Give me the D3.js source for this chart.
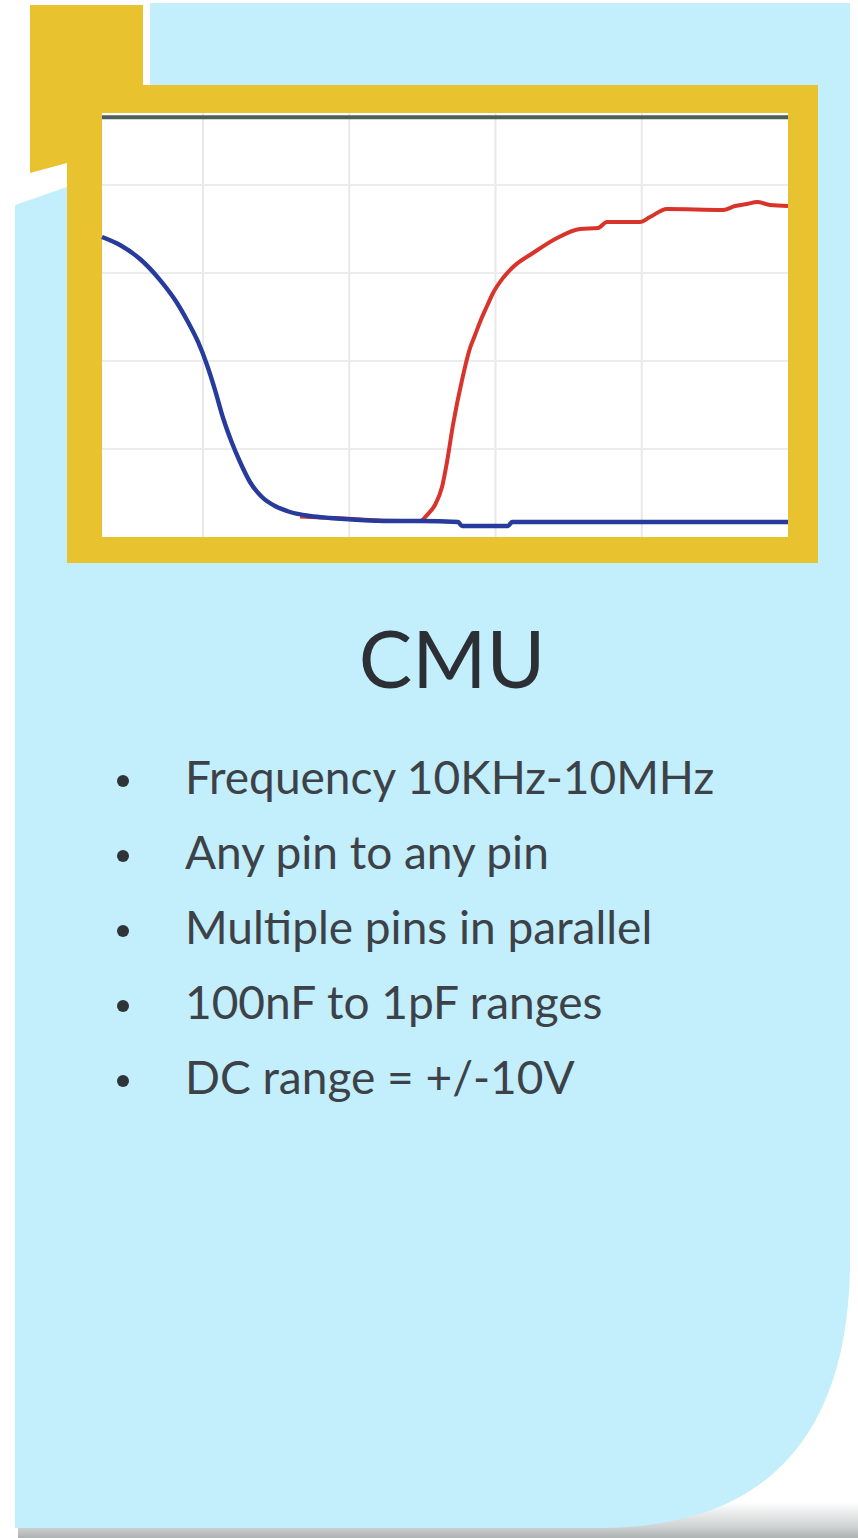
<!DOCTYPE html>
<html>
<head>
<meta charset="utf-8">
<script src="https://cdn.jsdelivr.net/npm/d3@7"></script>
<style>
  html, body { margin: 0; padding: 0; background: #ffffff; }
  svg { display: block; }
</style>
</head>
<body>
<div id="chart"></div>
<script>
// ---- Data (grid units) ----
const blueX = [0.309, 0.432, 0.569, 0.706, 0.809, 0.897, 0.966, 1.027, 1.082, 1.137, 1.198, 1.253, 1.321, 1.403, 1.492, 1.595, 1.732, 1.868, 2.074, 2.279, 2.484, 2.744, 2.771, 3.085, 3.113, 5.0];
const blueY = [3.409, 3.318, 3.159, 2.920, 2.693, 2.443, 2.216, 1.955, 1.670, 1.352, 1.068, 0.852, 0.625, 0.455, 0.352, 0.284, 0.239, 0.216, 0.193, 0.182, 0.182, 0.170, 0.125, 0.125, 0.170, 0.170];

const redX = [1.663, 1.868, 2.074, 2.244, 2.484, 2.538, 2.586, 2.634, 2.668, 2.709, 2.771, 2.826, 2.860, 2.894, 2.942, 2.983, 3.051, 3.120, 3.256, 3.421, 3.578, 3.701, 3.762, 3.988, 4.056, 4.173, 4.556, 4.638, 4.720, 4.788, 4.877, 5.0];
const redY = [0.232, 0.216, 0.200, 0.186, 0.182, 0.261, 0.364, 0.568, 0.852, 1.273, 1.784, 2.148, 2.295, 2.443, 2.625, 2.773, 2.943, 3.068, 3.227, 3.398, 3.500, 3.511, 3.580, 3.580, 3.636, 3.727, 3.716, 3.761, 3.784, 3.807, 3.773, 3.761];

const xGrid = [1, 2, 3, 4];
const yGrid = [1, 2, 3, 4];
const topLineValue = 4.77;

const title = "CMU";
const bullets = [
  "Frequency 10KHz-10MHz",
  "Any pin to any pin",
  "Multiple pins in parallel",
  "100nF to 1pF ranges",
  "DC range = +/-10V"
];

// ---- Drawing ----
const W = 858, H = 1538;
const svg = d3.select("#chart").append("svg").attr("width", W).attr("height", H);

const defs = svg.append("defs");
const grad = defs.append("linearGradient").attr("id", "shadowGrad")
  .attr("x1", 0).attr("y1", 0).attr("x2", 0).attr("y2", 1);
grad.append("stop").attr("offset", "0%").attr("stop-color", "#a7acad").attr("stop-opacity", 0);
grad.append("stop").attr("offset", "70%").attr("stop-color", "#a7acad").attr("stop-opacity", 0.55);
grad.append("stop").attr("offset", "100%").attr("stop-color", "#a2a8a9").attr("stop-opacity", 0.9);

const BLUE_BG = "#c3eefb";
const YELLOW = "#e9c32f";

// soft shadow under panel
svg.append("rect")
  .attr("x", 18).attr("y", 1502).attr("width", 840).attr("height", 36)
  .attr("fill", "url(#shadowGrad)");

// light-blue panel
svg.append("path")
  .attr("d", "M150,3 L850,3 L850,1260 C850,1420 780,1528 600,1528 L15,1528 L15,205 L67,187 L67,85 L150,85 Z")
  .attr("fill", BLUE_BG);

// yellow tab + frame
svg.append("path")
  .attr("d", "M30,5 L143,5 L143,85 L818,85 L818,563 L67,563 L67,163 L30,173 Z")
  .attr("fill", YELLOW);

// plot area
const plot = { x0: 102, x1: 788, y0: 113, y1: 537 };
svg.append("rect")
  .attr("x", plot.x0).attr("y", plot.y0)
  .attr("width", plot.x1 - plot.x0).attr("height", plot.y1 - plot.y0)
  .attr("fill", "#ffffff");

const x = d3.scaleLinear().domain([0.309, 5]).range([plot.x0, plot.x1]);
const y = d3.scaleLinear().domain([0, 4.818]).range([plot.y1, plot.y0]);

const g = svg.append("g");

g.selectAll("line.vg").data(xGrid).join("line")
  .attr("class", "vg")
  .attr("x1", d => x(d)).attr("x2", d => x(d))
  .attr("y1", plot.y0).attr("y2", plot.y1)
  .attr("stroke", "#e8e8e8").attr("stroke-width", 2);

g.selectAll("line.hg").data(yGrid).join("line")
  .attr("class", "hg")
  .attr("x1", plot.x0).attr("x2", plot.x1)
  .attr("y1", d => y(d)).attr("y2", d => y(d))
  .attr("stroke", "#ececec").attr("stroke-width", 2);

// dark top line
g.append("line")
  .attr("x1", plot.x0).attr("x2", plot.x1)
  .attr("y1", y(topLineValue)).attr("y2", y(topLineValue))
  .attr("stroke", "#4e5e58").attr("stroke-width", 4);

const line = d3.line().x(d => x(d[0])).y(d => y(d[1])).curve(d3.curveMonotoneX);

const redData = redX.map((v, i) => [v, redY[i]]);
const blueData = blueX.map((v, i) => [v, blueY[i]]);

g.append("path").datum(redData)
  .attr("d", line)
  .attr("fill", "none")
  .attr("stroke", "#d9342c")
  .attr("stroke-width", 4)
  .attr("stroke-linejoin", "round");

g.append("path").datum(blueData)
  .attr("d", line)
  .attr("fill", "none")
  .attr("stroke", "#263b9c")
  .attr("stroke-width", 4.4)
  .attr("stroke-linejoin", "round");

// title
svg.append("text")
  .attr("x", 452).attr("y", 688)
  .attr("text-anchor", "middle")
  .attr("font-family", "Lato, 'Open Sans', sans-serif")
  .attr("font-size", 80)
  .attr("fill", "#2c3035")
  .text(title);

// bullets
const bl = svg.append("g");
bullets.forEach((t, i) => {
  const by = 794 + i * 75;
  bl.append("circle")
    .attr("cx", 123).attr("cy", by - 13)
    .attr("r", 6)
    .attr("fill", "#2f3439");
  bl.append("text")
    .attr("x", 185).attr("y", by)
    .attr("font-family", "Lato, 'Open Sans', sans-serif")
    .attr("font-size", 46)
    .attr("fill", "#3c4248")
    .text(t);
});
</script>
</body>
</html>
